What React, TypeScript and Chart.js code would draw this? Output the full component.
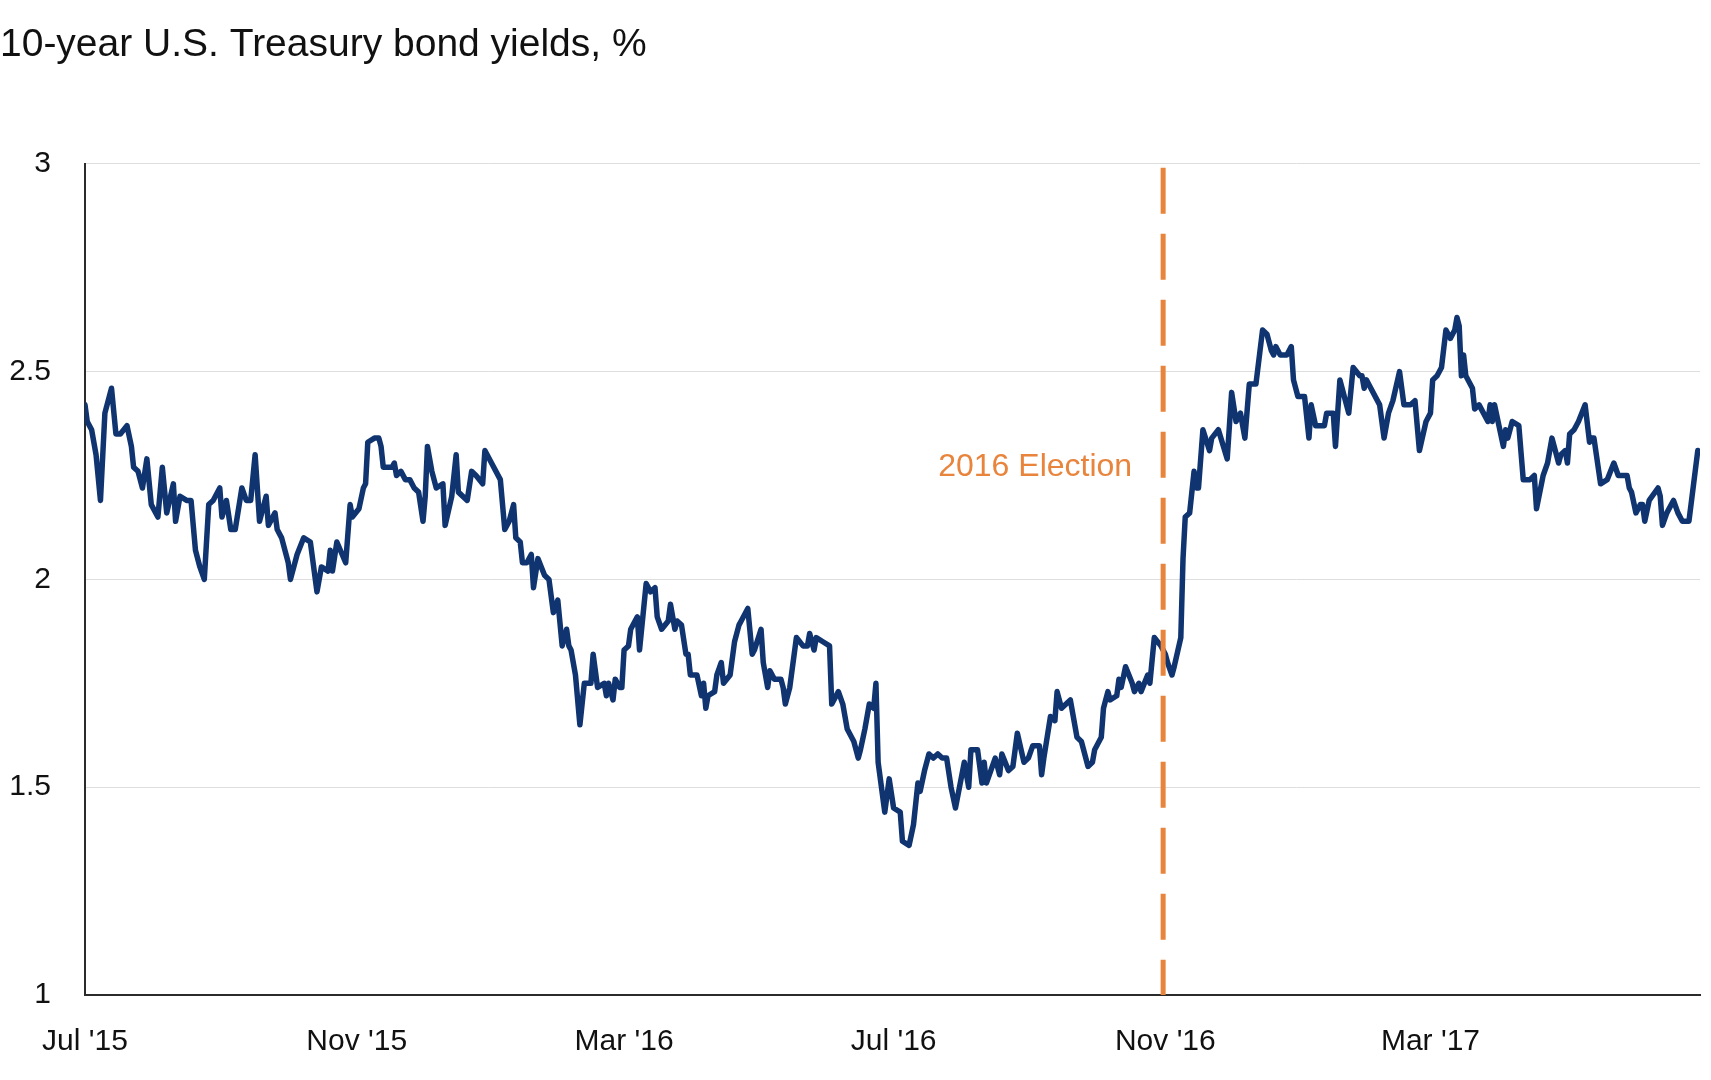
import React, { useEffect, useRef } from "react";
import { Chart, registerables } from "chart.js";

Chart.register(...registerables);

const TITLE = "10-year U.S. Treasury bond yields, %";
const START_DATE = "2015-07-01";
const END_DATE = "2017-07-01";

// x: trading-day positions as days since START_DATE
const dayOffsets = [
  0, 1, 3, 5, 7, 9, 12, 14, 16, 19, 21, 22, 24, 26, 28, 30, 33, 35, 37, 40, 41, 43, 46, 48, 50, 52, 54, 56, 58, 61,
  62, 64, 66, 68, 71, 73, 75, 77, 79, 82, 83, 86, 87, 89, 92, 93, 96, 99, 102, 105, 107, 110, 111, 112, 114, 118, 120, 121, 124, 126,
  127, 128, 131, 133, 134, 135, 139, 140, 141, 143, 145, 147, 149, 151, 153, 154, 155, 157, 159, 162, 163, 166, 168, 169, 173, 175, 177, 180, 181, 184,
  188, 190, 192, 194, 195, 197, 198, 200, 202, 203, 205, 208, 210, 212, 214, 216, 218, 219, 220, 222, 224, 226, 229, 230, 232, 235, 236, 237, 239, 240,
  242, 243, 244, 246, 247, 250, 251, 254, 256, 258, 259, 261, 264, 265, 267, 268, 270, 272, 273, 274, 277, 279, 280, 281, 282, 285, 286, 288, 289, 292,
  294, 296, 297, 300, 302, 303, 306, 307, 309, 310, 312, 314, 315, 316, 317, 319, 322, 325, 327, 328, 330, 331, 334, 337, 338, 341, 343, 345, 348, 350,
  351, 353, 355, 357, 358, 359, 362, 364, 366, 369, 370, 373, 375, 377, 378, 380, 382, 384, 386, 388, 390, 392, 394, 398, 400, 401, 404, 406, 407, 408,
  412, 414, 415, 418, 420, 422, 425, 427, 429, 432, 433, 434, 437, 439, 440, 442, 446, 449, 451, 454, 456, 457, 460, 461, 463, 464, 467, 468, 469, 471,
  474, 475, 477, 478, 481, 482, 484, 487, 489, 490, 492, 493, 496, 497, 498, 500, 502, 503, 504, 506, 509, 510, 513, 517, 519, 521, 523, 525, 527, 530,
  533, 535, 537, 538, 539, 541, 544, 546, 547, 549, 552, 554, 555, 557, 558, 561, 562, 565, 566, 568, 569, 572, 574, 577, 578, 579, 580, 581, 586, 588,
  590, 592, 595, 597, 600, 602, 604, 607, 609, 610, 612, 614, 616, 618, 620, 621, 622, 623, 624, 625, 628, 629, 631, 633, 635, 636, 637, 638, 640, 642,
  643, 644, 646, 649, 651, 654, 656, 657, 660, 662, 664, 667, 668, 670, 671, 672, 674, 676, 679, 681, 682, 683, 686, 689, 692, 694, 698, 699, 700, 702,
  704, 705, 706, 708, 712, 713, 714, 716, 719, 721, 723, 726, 730,
];

const yields = [
  2.42, 2.38, 2.36, 2.30, 2.19, 2.40, 2.46, 2.35, 2.35, 2.37, 2.32, 2.27, 2.26, 2.22, 2.29, 2.18, 2.15, 2.27, 2.16, 2.23, 2.14, 2.20, 2.19, 2.19, 2.07, 2.03, 2.00, 2.18, 2.19, 2.22,
  2.15, 2.19, 2.12, 2.12, 2.22, 2.19, 2.19, 2.30, 2.14, 2.20, 2.13, 2.16, 2.12, 2.10, 2.04, 2.00, 2.06, 2.10, 2.09, 1.97, 2.03, 2.02, 2.07, 2.02, 2.09, 2.04, 2.18, 2.15, 2.17, 2.22,
  2.23, 2.33, 2.34, 2.34, 2.32, 2.27, 2.27, 2.28, 2.25, 2.26, 2.24, 2.24, 2.22, 2.21, 2.14, 2.20, 2.32, 2.26, 2.22, 2.23, 2.13, 2.20, 2.30, 2.21, 2.19, 2.26, 2.25, 2.23, 2.31, 2.28,
  2.24, 2.12, 2.14, 2.18, 2.10, 2.09, 2.04, 2.04, 2.06, 1.98, 2.05, 2.01, 2.00, 1.92, 1.95, 1.84, 1.88, 1.84, 1.83, 1.77, 1.65, 1.75, 1.75, 1.82, 1.74, 1.75, 1.72, 1.75, 1.71, 1.76,
  1.74, 1.74, 1.83, 1.84, 1.88, 1.91, 1.83, 1.99, 1.97, 1.98, 1.91, 1.88, 1.90, 1.94, 1.88, 1.90, 1.89, 1.82, 1.82, 1.77, 1.77, 1.72, 1.75, 1.69, 1.72, 1.73, 1.77, 1.80, 1.75, 1.77,
  1.85, 1.89, 1.90, 1.93, 1.82, 1.83, 1.88, 1.80, 1.74, 1.78, 1.76, 1.76, 1.76, 1.74, 1.70, 1.74, 1.86, 1.84, 1.84, 1.87, 1.83, 1.86, 1.85, 1.84, 1.70, 1.73, 1.70, 1.64, 1.61, 1.57,
  1.59, 1.64, 1.70, 1.69, 1.75, 1.56, 1.44, 1.52, 1.45, 1.44, 1.37, 1.36, 1.41, 1.51, 1.49, 1.54, 1.58, 1.57, 1.58, 1.57, 1.57, 1.50, 1.45, 1.56, 1.50, 1.59, 1.59, 1.51, 1.56, 1.51,
  1.57, 1.53, 1.58, 1.54, 1.55, 1.63, 1.56, 1.57, 1.60, 1.60, 1.53, 1.57, 1.67, 1.66, 1.73, 1.69, 1.71, 1.62, 1.61, 1.55, 1.56, 1.59, 1.62, 1.69, 1.73, 1.71, 1.72, 1.76, 1.74, 1.79,
  1.75, 1.73, 1.75, 1.73, 1.77, 1.75, 1.86, 1.84, 1.82, 1.80, 1.77, 1.79, 1.86, 2.05, 2.15, 2.16, 2.26, 2.22, 2.22, 2.36, 2.31, 2.34, 2.36, 2.29, 2.45, 2.38, 2.40, 2.34, 2.47, 2.47,
  2.60, 2.59, 2.55, 2.54, 2.56, 2.54, 2.54, 2.56, 2.48, 2.44, 2.44, 2.34, 2.42, 2.37, 2.37, 2.37, 2.40, 2.40, 2.32, 2.48, 2.46, 2.40, 2.51, 2.49, 2.49, 2.46, 2.48, 2.47, 2.42, 2.34,
  2.40, 2.43, 2.50, 2.42, 2.42, 2.43, 2.31, 2.38, 2.40, 2.48, 2.49, 2.51, 2.60, 2.58, 2.60, 2.63, 2.61, 2.49, 2.54, 2.49, 2.46, 2.41, 2.42, 2.40, 2.38, 2.42, 2.38, 2.42, 2.37, 2.32,
  2.36, 2.34, 2.38, 2.37, 2.24, 2.24, 2.25, 2.17, 2.25, 2.28, 2.34, 2.28, 2.30, 2.31, 2.28, 2.35, 2.36, 2.38, 2.42, 2.33, 2.34, 2.34, 2.23, 2.24, 2.28, 2.25, 2.25, 2.22, 2.21, 2.16,
  2.18, 2.18, 2.14, 2.19, 2.22, 2.20, 2.13, 2.16, 2.19, 2.16, 2.14, 2.14, 2.31,
];

const tickDates = ["2015-07-01", "2015-11-01", "2016-03-01", "2016-07-01", "2016-11-01", "2017-03-01"];
const tickLabels = ["Jul '15", "Nov '15", "Mar '16", "Jul '16", "Nov '16", "Mar '17"];

const Y_MIN = 1;
const Y_MAX = 3;
const Y_STEP = 0.5;

const ELECTION_MARK_DATE = "2016-10-31";
const ELECTION_LABEL = "2016 Election";
const ELECTION_LABEL_YIELD = 2.25;

const LINE_COLOR = "#0f3470";
const ORANGE = "#e8843c";
const FONT = "'Liberation Sans', Arial, sans-serif";

const dayOf = (d: string) => (Date.parse(d) - Date.parse(START_DATE)) / 86400000;

const electionPlugin = {
  id: "electionMarker",
  afterDatasetsDraw(chart: any) {
    const { ctx, chartArea, scales } = chart;
    const x = scales.x.getPixelForValue(dayOf(ELECTION_MARK_DATE));
    ctx.save();
    ctx.strokeStyle = ORANGE;
    ctx.lineWidth = 5;
    ctx.setLineDash([46, 20]);
    ctx.beginPath();
    ctx.moveTo(x, chartArea.top + 4);
    ctx.lineTo(x, chartArea.bottom);
    ctx.stroke();
    ctx.setLineDash([]);
    ctx.fillStyle = ORANGE;
    ctx.font = `32px ${FONT}`;
    ctx.textAlign = "right";
    ctx.textBaseline = "alphabetic";
    ctx.fillText(ELECTION_LABEL, x - 31, scales.y.getPixelForValue(ELECTION_LABEL_YIELD));
    ctx.restore();
  },
};

export default function App() {
  const ref = useRef<HTMLCanvasElement>(null);

  useEffect(() => {
    if (!ref.current) return;
    const points = dayOffsets.map((d, i) => ({ x: d, y: yields[i] }));
    const tickValues = tickDates.map(dayOf);
    const chart = new Chart(ref.current, {
      type: "line",
      data: {
        datasets: [
          {
            data: points,
            borderColor: LINE_COLOR,
            borderWidth: 5.5,
            pointRadius: 0,
            tension: 0,
            borderJoinStyle: "round",
            borderCapStyle: "round",
          },
        ],
      },
      options: {
        animation: false,
        responsive: false,
        devicePixelRatio: 1,
        layout: { padding: { left: 0, right: 11, top: 0, bottom: 0 } },
        plugins: {
          legend: { display: false },
          tooltip: { enabled: false },
          title: {
            display: true,
            text: TITLE,
            align: "start",
            color: "#111",
            font: { family: FONT, size: 39, weight: "normal" },
            padding: { top: 22, bottom: 95 },
          },
        },
        scales: {
          x: {
            type: "linear",
            min: 0,
            max: dayOf(END_DATE),
            afterFit: (s: any) => {
              s.height = 85;
            },
            afterBuildTicks: (s: any) => {
              s.ticks = tickValues.map((v) => ({ value: v }));
            },
            grid: { display: false, drawTicks: false },
            border: { display: true, color: "#2b2b2b", width: 2 },
            ticks: {
              autoSkip: false,
              maxRotation: 0,
              padding: 29,
              color: "#111",
              font: { family: FONT, size: 30 },
              callback: (_v: any, i: number) => tickLabels[i],
            },
          },
          y: {
            min: Y_MIN,
            max: Y_MAX,
            afterFit: (s: any) => {
              s.width = 85;
            },
            grid: { color: "#dedede", lineWidth: 1, drawTicks: false },
            border: { display: true, color: "#2b2b2b", width: 2 },
            ticks: {
              stepSize: Y_STEP,
              padding: 34,
              color: "#111",
              font: { family: FONT, size: 30 },
              callback: (v: any) => String(Number(v)),
            },
          },
        },
      },
      plugins: [electionPlugin],
    });
    return () => chart.destroy();
  }, []);

  return (
    <div style={{ position: "fixed", left: 0, top: 0, width: 1711, height: 1080, background: "#fff" }}>
      <canvas ref={ref} width={1711} height={1080} />
    </div>
  );
}
